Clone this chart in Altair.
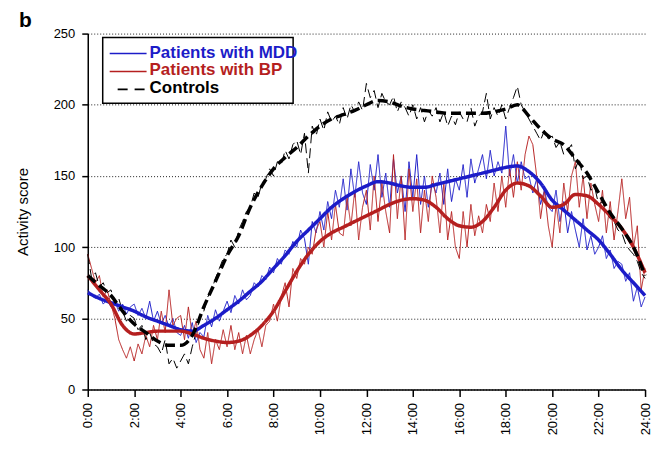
import altair as alt
import pandas as pd

groups = ["Patients with MDD", "Patients with BP", "Controls"]
colors = ["#1c1cc8", "#b51f1f", "#000000"]

# raw activity (10-minute samples, 0:00 .. 24:00)
mdd_raw = [
    70, 66, 64, 67, 60, 63,
    58, 62, 55, 60, 53, 58,
    60, 52, 57, 50, 62, 48,
    55, 46, 52, 44, 50, 40,
    38, 45, 36, 47, 33, 40,
    37, 52, 44, 56, 48, 55,
    62, 54, 66, 60, 70, 63,
    66, 75, 72, 80, 77, 86,
    82, 92, 88, 98, 95, 104,
    100, 112, 106, 88, 118, 110,
    125, 112, 132, 120, 140, 128,
    148, 126, 155, 135, 160, 138,
    130, 158, 140, 165, 135, 152,
    128, 162, 138, 150, 125, 160,
    135, 165, 130, 150, 128, 145,
    138, 152, 130, 155, 132, 148,
    140, 158, 135, 162, 145, 155,
    165, 148, 168, 150, 160, 152,
    185, 150, 165, 145, 160, 148,
    150, 138, 148, 130, 140, 128,
    125, 140, 118, 132, 110, 125,
    112, 100, 120, 98, 108, 95,
    100, 108, 92, 98, 85, 90,
    88, 76, 82, 62, 72, 58,
    65]

bp_raw = [
    95, 85, 75, 80, 65, 70,
    60, 50, 35, 28, 22, 30,
    20, 32, 25, 38, 30, 45,
    35, 55, 40, 70, 45, 50,
    52, 35, 58, 38, 48, 28,
    22, 40, 18, 35, 28, 42,
    30, 45, 28, 40, 25, 38,
    25, 35, 42, 30, 45, 48,
    60, 48, 65, 75, 58, 85,
    78, 92, 88, 100, 95, 112,
    118, 100, 125, 105, 130, 110,
    108, 135, 115, 140, 105, 128,
    140, 112, 150, 118, 145, 125,
    110, 165, 120, 150, 105, 155,
    125, 148, 110, 140, 118, 150,
    135, 110, 145, 105, 125, 100,
    92, 125, 100, 130, 108, 122,
    110, 130, 118, 145, 125, 150,
    128, 155, 135, 160, 140, 165,
    178, 172, 150, 120, 140, 115,
    100, 130, 110, 145, 125, 150,
    160, 128, 150, 120, 145, 130,
    118, 140, 110, 132, 105, 125,
    148, 120, 135, 100, 115, 70,
    85]

ctl_raw = [
    95, 78, 82, 72, 75, 68,
    70, 60, 64, 55, 48, 52,
    50, 42, 45, 35, 40, 32,
    30, 25, 35, 18, 22, 15,
    20, 25, 18, 30, 40, 50,
    55, 65, 70, 78, 85, 92,
    95, 105, 100, 112, 118, 125,
    128, 138, 135, 145, 148, 155,
    150, 160, 158, 168, 162, 172,
    175, 165, 180, 152, 185, 178,
    190, 182, 195, 188, 192, 186,
    198, 190, 200, 195, 202, 196,
    215, 205, 210, 198, 208, 202,
    200, 206, 195, 202, 198, 192,
    200, 190, 198, 188, 196, 192,
    198, 188, 195, 185, 192, 186,
    195, 190, 188, 198, 185, 192,
    195, 208, 190, 198, 192, 200,
    190, 198, 205, 213, 200, 195,
    190, 185, 180, 175, 182, 176,
    178, 170, 174, 165, 168, 172,
    155, 162, 148, 150, 140, 142,
    130, 132, 125, 120, 118, 112,
    110, 102, 98, 95, 90, 82,
    78]

# smoothed curves (30-minute samples)
mdd_smooth = [68, 64, 61, 58, 55, 51, 48, 45, 42, 41, 45, 50, 56, 62, 69, 76,
              85, 94, 104, 112, 120, 128, 134, 139, 143, 146, 145, 143, 142, 142,
              144, 146, 148, 150, 152, 154, 156, 157, 153, 145, 133, 126, 119,
              112, 105, 95, 84, 75, 66]
bp_smooth = [80, 70, 60, 45, 39, 40, 41, 41, 41, 39, 36, 34, 33, 34, 38, 45,
             55, 69, 83, 95, 104, 110, 114, 118, 122, 126, 130, 133, 134, 133,
             128, 120, 115, 114, 118, 128, 140, 145, 143, 136, 128, 130, 137,
             136, 130, 122, 113, 100, 82]
ctl_smooth = [80, 73, 66, 55, 46, 40, 34, 31, 31, 38, 58, 76, 94, 108, 128, 143,
              155, 163, 170, 178, 185, 190, 193, 196, 200, 203, 202, 199, 197, 196,
              195, 194, 194, 194, 194, 195, 197, 200, 192, 183, 176, 172, 162,
              152, 138, 124, 113, 100, 80]

raw_times = [i / 6 for i in range(145)]
smooth_times = [i / 2 for i in range(49)]

thin_rows, thick_rows = [], []
for g, vals in zip(groups, [mdd_raw, bp_raw, ctl_raw]):
    for t, v in zip(raw_times, vals):
        thin_rows.append({"t": t, "v": v, "g": g})
for g, vals in zip(groups, [mdd_smooth, bp_smooth, ctl_smooth]):
    for t, v in zip(smooth_times, vals):
        thick_rows.append({"t": t, "v": v, "g": g})
thin_df = pd.DataFrame(thin_rows)
thick_df = pd.DataFrame(thick_rows)

FONT = "Liberation Sans"

x_enc = alt.X("t:Q", scale=alt.Scale(domain=[0, 24], nice=False, zero=False),
              axis=alt.Axis(values=list(range(0, 25, 2)),
                            labelExpr="datum.value + ':00'",
                            labelAngle=270, labelAlign="right", labelBaseline="middle",
                            grid=False, title=None, tickSize=7, labelPadding=6))
y_enc = alt.Y("v:Q", scale=alt.Scale(domain=[0, 250], nice=False),
              axis=alt.Axis(values=[0, 50, 100, 150, 200, 250], grid=True,
                            gridDash=[1, 2], gridColor="#222222", gridWidth=1,
                            title="Activity score", titlePadding=23,
                            titleFontSize=15, titleFontWeight="normal",
                            tickSize=6, labelPadding=7))
color_enc = alt.Color("g:N", scale=alt.Scale(domain=groups, range=colors), legend=None)
dash_enc = alt.StrokeDash("g:N", scale=alt.Scale(domain=groups, range=[[1, 0], [1, 0], [10, 5]]),
                          legend=None)

thin = alt.Chart(thin_df).mark_line(strokeWidth=1).encode(
    x=x_enc, y=y_enc, color=color_enc, strokeDash=dash_enc,
    order=alt.Order("t:Q"))
thick = alt.Chart(thick_df).mark_line(strokeWidth=3.5, interpolate="monotone").encode(
    x=x_enc, y=y_enc, color=color_enc, strokeDash=dash_enc,
    order=alt.Order("t:Q"))

one = pd.DataFrame({"s": ["b"]})

label_b = alt.Chart(one).mark_text(
    font=FONT, fontSize=21, fontWeight="bold", align="left", baseline="alphabetic"
).encode(x=alt.value(-69), y=alt.value(-7), text="s:N")

# legend box drawn by hand
legend_box = alt.Chart(one).mark_rect(fill="white", stroke="black", strokeWidth=1.5).encode(
    x=alt.value(15), x2=alt.value(206), y=alt.value(4), y2=alt.value(70))

legend_layers = [legend_box]
row_y = [19, 37, 55]
dashes = [[1, 0], [1, 0], [10, 7]]
starts = [22, 22, 30]
for g, c, yy, d, x0 in zip(groups, colors, row_y, dashes, starts):
    gd = pd.DataFrame({"s": [g]})
    legend_layers.append(
        alt.Chart(gd).mark_rule(color=c, strokeWidth=1.6, strokeDash=d).encode(
            x=alt.value(x0), x2=alt.value(59), y=alt.value(yy + 1)))
    legend_layers.append(
        alt.Chart(gd).mark_text(font=FONT, fontSize=17, fontWeight="bold", color=c,
                                align="left", baseline="middle").encode(
            x=alt.value(62), y=alt.value(yy), text="s:N"))

chart = alt.layer(thin, thick, *legend_layers, label_b).properties(
    width=559, height=357,
    autosize=alt.AutoSizeParams(type="none"),
    padding={"left": 80, "top": 25, "right": 15, "bottom": 50},
).configure_view(stroke=None).configure_axis(
    labelFont=FONT, titleFont=FONT, labelFontSize=13, labelColor="#000000",
    titleColor="#000000", domainColor="#000000", domainWidth=1.5,
    tickColor="#000000", tickWidth=1.5,
)

chart.save("out.html", embed_options={"renderer": "svg", "actions": False})
